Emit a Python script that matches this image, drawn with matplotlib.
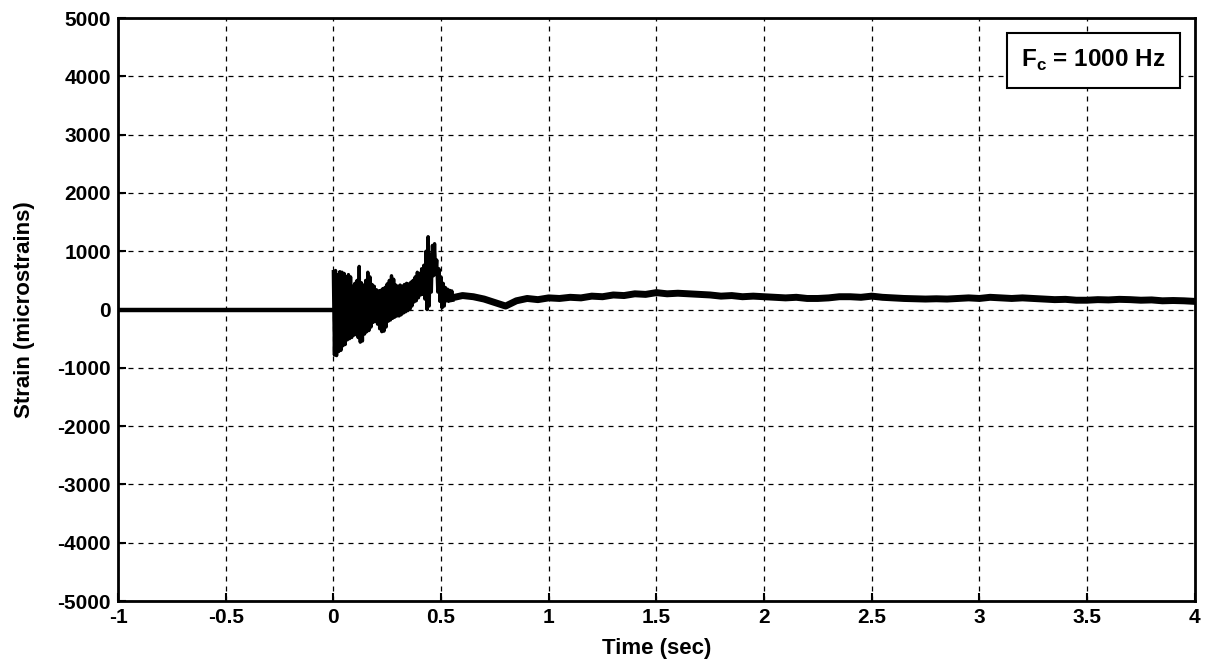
import numpy as np
import matplotlib.pyplot as plt

plt.rcParams['font.family'] = 'Liberation Sans'
plt.rcParams['font.weight'] = 'bold'
plt.rcParams['axes.unicode_minus'] = False
plt.rcParams['mathtext.fontset'] = 'custom'
plt.rcParams['mathtext.bf'] = 'Liberation Sans:bold'
plt.rcParams['mathtext.rm'] = 'Liberation Sans:bold'

# quiet part before the impact
pre_t = [-1.0, 0.0]
pre_strain = [0, 0]

# burst 0 - 0.55 s, upper / lower envelope every 0.01 s (microstrains)
burst_t = [round(0.01 * i, 2) for i in range(56)]
burst_upper = [650, 670, 600, 650, 640, 620, 560, 600, 560, 400,
               450, 500, 740, 460, 420, 500, 640, 560, 430, 400,
               340, 320, 330, 360, 380, 440, 500, 580, 520, 420,
               400, 420, 400, 430, 450, 440, 470, 500, 560, 640,
               620, 700, 760, 1000, 1250, 950, 1100, 1130, 850, 700,
               560, 450, 380, 350, 330, 320]
burst_lower = [-780, -790, -720, -700, -620, -600, -520, -500, -480, -440,
               -430, -480, -560, -540, -420, -380, -360, -300, -220, -200,
               -250, -330, -380, -370, -300, -200, -180, -150, -130, -110,
               -110, -90, -60, -40, -20, 0, 60, 130, 150, 200,
               250, 260, 180, 0, 60, 300, 580, 600, 300, 140,
               30, 60, 150, 140, 150, 160]

# slow drift after the burst, every 0.05 s
tail_t = [round(0.55 + 0.05 * i, 2) for i in range(70)]
tail_strain = [200, 240, 220, 180, 120, 60, 150, 190, 170, 200,
               190, 210, 200, 230, 220, 250, 240, 270, 260, 290,
               270, 280, 270, 260, 250, 230, 240, 220, 230, 220,
               210, 200, 210, 190, 190, 200, 220, 220, 210, 230,
               210, 200, 190, 185, 180, 185, 180, 190, 200, 190,
               210, 200, 190, 200, 190, 180, 170, 175, 160, 160,
               170, 165, 175, 170, 160, 165, 150, 155, 150, 140]

# interleave the envelopes so the trace swings up and down
bt = []
bs = []
for t, hi, lo in zip(burst_t, burst_upper, burst_lower):
    bt += [t, t + 0.005]
    bs += [hi, lo]

fig = plt.figure(figsize=(12.08, 6.69), dpi=100)
ax = fig.add_axes([0.0977, 0.1016, 0.8913, 0.8714])

ax.plot(pre_t, pre_strain, color='k', lw=3.2)
ax.plot(bt, bs, color='k', lw=2.4)
ax.plot(tail_t, tail_strain, color='k', lw=5)

ax.set_xlim(-1, 4)
ax.set_ylim(-5000, 5000)
ax.set_xticks(np.arange(-1, 4.01, 0.5))
ax.set_xticklabels(['-1', '-0.5', '0', '0.5', '1', '1.5', '2', '2.5', '3', '3.5', '4'])
ax.set_yticks(np.arange(-5000, 5001, 1000))
ax.grid(True, color='k', linestyle=(0, (4, 4)), lw=0.9)
ax.tick_params(direction='in', length=6, width=1.5, labelsize=15, pad=5)
for s in ax.spines.values():
    s.set_linewidth(2)

ax.set_xlabel('Time (sec)', fontsize=16, fontweight='bold', labelpad=8)
ax.set_ylabel('Strain (microstrains)', fontsize=16, fontweight='bold', labelpad=16)

ax.text(0.973, 0.949, r'$\mathbf{F}_{\mathbf{c}}$ = 1000 Hz', transform=ax.transAxes,
        ha='right', va='top', fontsize=17.5, fontweight='bold',
        bbox=dict(boxstyle='square,pad=0.6', fc='white', ec='k', lw=1.5))

fig.savefig('out.png', dpi=100)
